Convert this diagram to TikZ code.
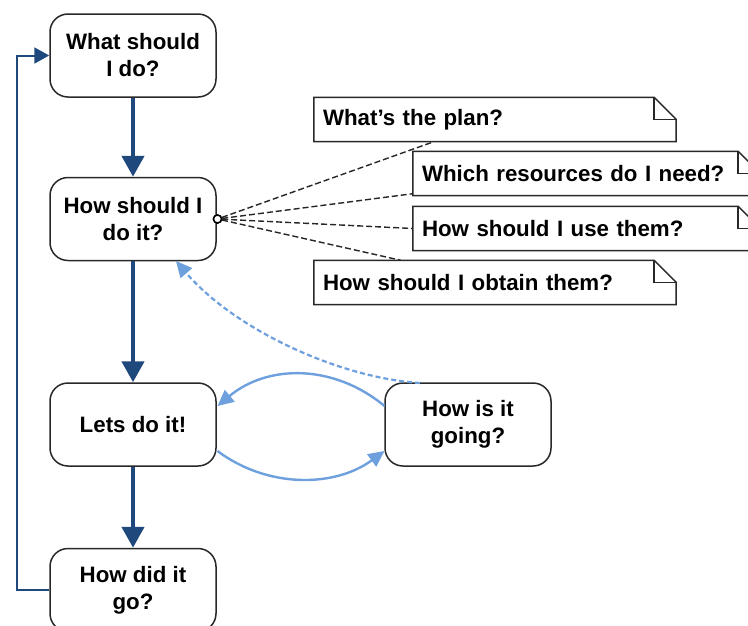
\documentclass[tikz,border=0pt]{standalone}
\usepackage{fontspec}
\setmainfont{Liberation Sans}
\usetikzlibrary{arrows.meta}
\definecolor{darkblue}{RGB}{31,73,125}
\definecolor{lightblue}{RGB}{110,160,222}
\definecolor{boxgray}{RGB}{40,40,40}
\begin{document}
\begin{tikzpicture}[x=1pt,y=-1pt,
  stepbox/.style={draw=boxgray,line width=1.5pt,rounded corners=18pt,fill=white,
    minimum width=166pt,minimum height=83pt,align=center,
    font=\fontsize{22.3}{27}\selectfont\bfseries},
  notebox/.style={inner sep=0pt,minimum height=44pt,align=left,
    font=\fontsize{22.3}{27}\selectfont\bfseries},
  noteline/.style={draw=boxgray,line width=1.5pt},
  mainarrow/.style={draw=darkblue,line width=4.5pt,-{Triangle[length=21pt,width=22pt]}},
  backarrow/.style={draw=darkblue,line width=2pt,-{Triangle[length=15pt,width=16pt]}},
  lightarrow/.style={draw=lightblue,line width=2.4pt,-{Triangle[length=16pt,width=15pt]}},
  dashlink/.style={draw=black!85,line width=1.4pt,dash pattern=on 6pt off 3pt},
]
\clip (0,0) rectangle (748,625);
\fill[white] (0,0) rectangle (748,625);

% main boxes
\node[stepbox] (b1) at (133,55.5) {What should\\I do?};
\node[stepbox] (b2) at (133,219) {How should I\\do it?};
\node[stepbox] (b3) at (133,424.5) {Lets do it!};
\node[stepbox] (b4) at (133,590) {How did it\\go?};
\node[stepbox] (b5) at (468,424.5) {How is it\\going?};

% notes
\newcommand{\dognote}[5]{%
  \node[notebox,minimum width=#4,text width=#4-18pt] (#1) at (#2,#3) {#5};
  \draw[noteline,fill=white] (#1.south west) -- (#1.north west) -- ([xshift=-22pt]#1.north east)
     -- ([yshift=-22pt]#1.north east) -- (#1.south east) -- cycle;
  \draw[noteline] ([xshift=-22pt]#1.north east) -- ([xshift=-22pt,yshift=-22pt]#1.north east)
     -- ([yshift=-22pt]#1.north east);
  \node[notebox,minimum width=#4,text width=#4-18pt] at (#1) {#5};
}
\dognote{n1}{495}{119.5}{362pt}{What’s the plan?}
\dognote{n2}{586.5}{173.5}{347pt}{Which resources do I need?}
\dognote{n3}{586.5}{228.5}{347pt}{How should I use them?}
\dognote{n4}{495}{282.5}{362pt}{How should I obtain them?}

% main flow
\draw[mainarrow] (b1.south) -- (b2.north);
\draw[mainarrow] (b2.south) -- (b3.north);
\draw[mainarrow] (b3.south) -- (b4.north);

% feedback loop
\coordinate (lb) at (17,590);
\coordinate (lt) at (17,55.5);
\draw[backarrow] (b4.west) -- (lb) -- (lt) -- (b1.west);

% dashed connections
\node[draw=black,line width=1.5pt,circle,inner sep=0pt,minimum size=8pt,fill=white] (c) at (217.5,219) {};
\draw[dashlink] (c) -- ([xshift=120pt]n1.south west);
\draw[dashlink] (c) -- ([yshift=2pt]n2.south west);
\draw[dashlink] (c) -- (n3.west);
\draw[dashlink] (c) -- ([xshift=87pt]n4.north west);
\node[draw=black,line width=1.5pt,circle,inner sep=0pt,minimum size=8pt,fill=white] at (c) {};

% light blue loop
\coordinate (s1) at (384.5,406);
\coordinate (e1) at (217.5,406);
\draw[lightarrow] (s1) .. controls (334,364) and (268,364) .. (e1);
\coordinate (s2) at (217.5,451);
\coordinate (e2) at (384.5,451);
\draw[lightarrow] (s2) .. controls (267,488) and (334,488) .. (e2);

% dashed light blue feedback
\coordinate (s3) at (420,383);
\coordinate (e3) at (176,261);
\draw[draw=lightblue,line width=2.2pt,dash pattern=on 5pt off 3pt,-{Triangle[length=16pt,width=15pt]}]
  (s3) .. controls (340,378) and (235,330) .. (e3);
\end{tikzpicture}
\end{document}
